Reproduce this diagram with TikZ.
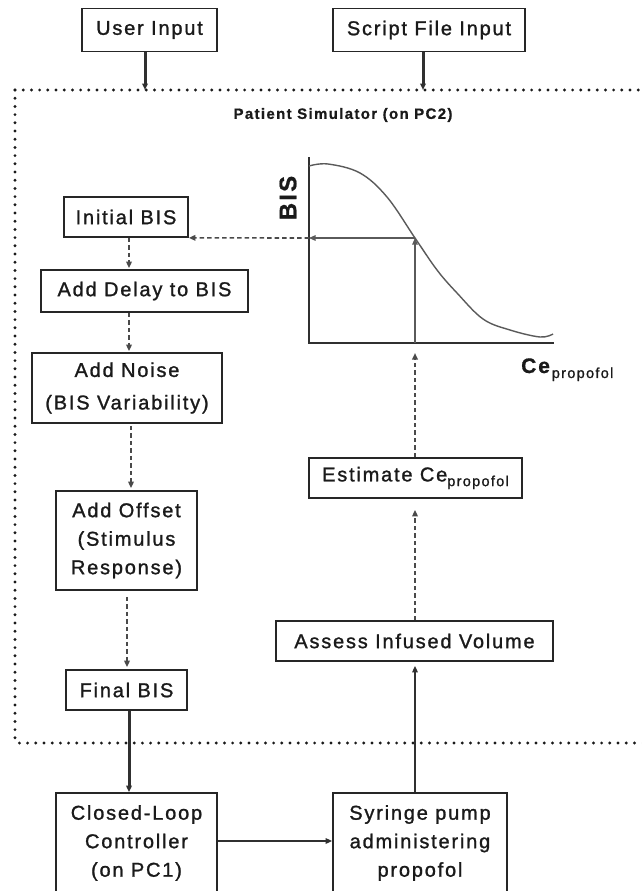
\documentclass[tikz,border=0pt]{standalone}
\usepackage{fontspec}
\setmainfont{Liberation Sans}[LetterSpace=9, FakeBold=1.2, BoldFeatures={FakeBold=0.8}]
\usetikzlibrary{arrows.meta,calc}
\definecolor{txt}{HTML}{1A1A1A}
\definecolor{boxc}{HTML}{262626}
\definecolor{linec}{HTML}{303030}
\definecolor{dashc}{HTML}{4A4A4A}
\definecolor{graphc}{HTML}{5A5A5A}
\newcommand{\boxfont}{\fontsize{20}{28.5}\selectfont}
\newcommand{\subtxt}[1]{\raisebox{-0.45ex}{\fontsize{14.5}{14.5}\selectfont #1}}
\begin{document}
\begin{tikzpicture}[x=1pt,y=-1pt,
  box/.style={draw=boxc, line width=1.7pt, inner sep=0pt, align=center, font=\boxfont, text=txt},
  tip/.style={-{Triangle[length=6.5pt,width=5.5pt]}},
  thickarrow/.style={tip, draw=linec, line width=3pt},
  thinarrow/.style={tip, draw=linec, line width=1.5pt},
  dasharrow/.style={tip, draw=dashc, line width=1.6pt, dash pattern=on 4.5pt off 3pt},
  graphline/.style={draw=linec, line width=1.6pt},
  graphptr/.style={tip, draw=graphc, line width=1.1pt},
  frame/.style={draw=txt, line width=3.2pt, line cap=round, dash pattern=on 0pt off 8.2pt, rounded corners=3pt}
]
\useasboundingbox (0,0) rectangle (641,891);
\fill[white] (0,0) rectangle (641,891);
\clip (0,0) rectangle (641,891);

% patient simulator frame
\draw[frame] (15,90) -- (15,743) -- (700,743);
\draw[frame] (15,90) -- (700,90);
\node[font=\fontsize{15}{15}\selectfont\bfseries, text=txt] (pslabel) at (343,115) {Patient Simulator (on PC2)};

% top inputs
\node[box, minimum width=135pt, minimum height=43pt] (userin) at (149.5,30) {User Input};
\node[box, minimum width=192pt, minimum height=43pt] (scriptin) at (429,30) {Script File Input};
\coordinate (uin) at (145,90);
\coordinate (sin) at (423,90);
\draw[thickarrow] (uin |- userin.south) -- (uin);
\draw[thickarrow] (sin |- scriptin.south) -- (sin);

% left column
\node[box, minimum width=124pt, minimum height=40pt] (initbis) at (126,217) {Initial BIS};
\node[box, minimum width=207pt, minimum height=42pt] (delay) at (144.5,291) {Add Delay to BIS};
\node[box, minimum width=190pt, minimum height=70pt] (noise) at (127,388) {Add Noise\\[4pt](BIS Variability)};
\node[box, minimum width=141pt, minimum height=99pt] (offset) at (126.5,540.5) {Add Offset\\(Stimulus\\Response)};
\node[box, minimum width=121pt, minimum height=40pt] (final) at (126.5,690) {Final BIS};

\coordinate (c1) at (129,0);
\coordinate (c2) at (131,0);
\coordinate (c3) at (127,0);
\draw[dasharrow] (c1 |- initbis.south) -- ($(c1 |- delay.north)+(0,-1)$);
\draw[dasharrow] (c1 |- delay.south) -- ($(c1 |- noise.north)+(0,-1)$);
\draw[dasharrow] ($(c2 |- noise.south)+(0,2)$) -- ($(c2 |- offset.north)+(0,-2)$);
\draw[dasharrow] ($(c3 |- offset.south)+(0,6)$) -- ($(c3 |- final.north)+(0,-2)$);

% bottom boxes
\node[box, minimum width=161pt, minimum height=100pt] (closed) at (136.5,843) {Closed-Loop\\Controller\\(on PC1)};
\node[box, minimum width=174pt, minimum height=100pt] (syringe) at (420,843) {Syringe pump\\administering\\propofol};
\draw[thickarrow] (c1 |- final.south) -- (c1 |- closed.north);
\coordinate (hy) at (0,841);
\draw[thinarrow] (closed.east |- hy) -- (syringe.west |- hy);

% right column
\node[box, minimum width=213pt, minimum height=40pt] (estimate) at (415.5,478) {Estimate Ce\subtxt{propofol}};
\node[box, minimum width=277pt, minimum height=40pt] (assess) at (414.5,641) {Assess Infused Volume};
\coordinate (rc) at (415,0);
\draw[thinarrow] (rc |- syringe.north) -- ($(rc |- assess.south)+(0,4)$);
\draw[dasharrow] (rc |- assess.north) -- ($(rc |- estimate.south)+(0,11)$);

% graph
\coordinate (origin) at (309,343);
\coordinate (ytop) at (309,157);
\coordinate (xend) at (554,343);
\coordinate (pt) at (415,238);
\draw[graphline] (ytop) -- (origin) -- (xend);
\draw[draw=graphc, line width=1.4pt] plot[smooth, tension=0.6] coordinates {(309,166) (328,164) (360,173) (387,197) (415,238) (437,270) (457,293) (483,319) (510,330) (540,337) (553,334)};
\draw[dasharrow] (rc |- estimate.north) -- ($(rc |- origin)+(0,10)$);
\draw[graphptr] (rc |- origin) -- (pt);
\draw[graphptr] (pt) -- (ytop |- pt);
\draw[dasharrow] (ytop |- pt) -- (initbis.south east);
\node[rotate=90, font=\fontsize{24}{24}\selectfont\bfseries, text=txt] (bislabel) at (288,198) {BIS};
\node[anchor=base west, inner sep=0pt, font=\fontsize{21}{21}\selectfont, text=txt] (celabel) at (521,373) {\textbf{Ce}\subtxt{propofol}};
\end{tikzpicture}
\end{document}
